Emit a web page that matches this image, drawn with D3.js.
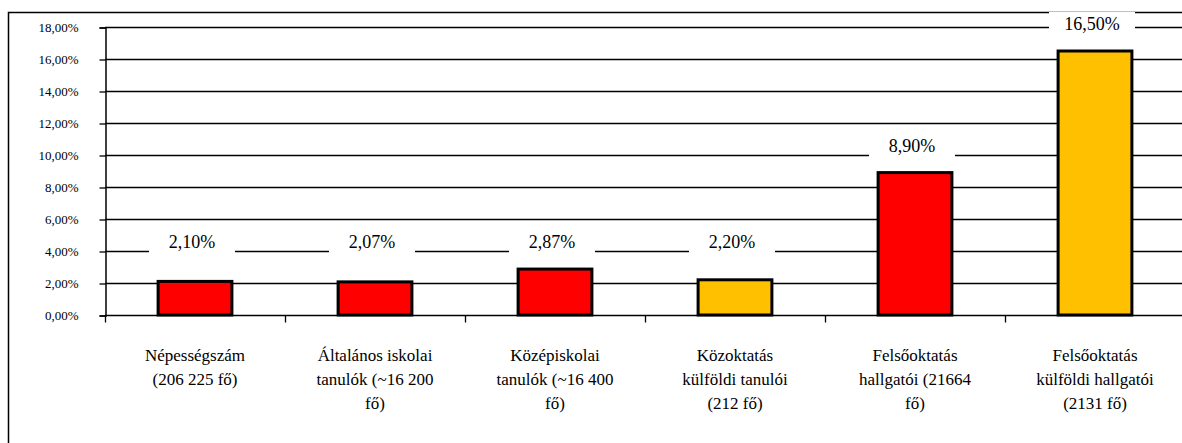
<!DOCTYPE html>
<html>
<head>
<meta charset="utf-8">
<script src="https://cdn.jsdelivr.net/npm/d3@7"></script>
<style>
body { margin: 0; background: #fff; }
#chart { display: block; font-family: 'Liberation Serif', 'Times New Roman', Tinos, serif; }
#chart text { font-family: 'Liberation Serif', 'Times New Roman', Tinos, serif !important; }
</style>
</head>
<body>
<svg id="chart" width="1182" height="443" style="font-family:'Liberation Serif'"></svg>
<script>
const categories = [
    ["Népességszám", "(206 225 fő)"],
    ["Általános iskolai", "tanulók (~16 200", "fő)"],
    ["Középiskolai", "tanulók (~16 400", "fő)"],
    ["Közoktatás", "külföldi tanulói", "(212 fő)"],
    ["Felsőoktatás", "hallgatói (21664", "fő)"],
    ["Felsőoktatás", "külföldi hallgatói", "(2131 fő)"]
];
const values = [2.10, 2.07, 2.87, 2.20, 8.90, 16.50];
const barColors = ["#ff0000", "#ff0000", "#ff0000", "#ffc000", "#ff0000", "#ffc000"];
const yTicks = [0, 2, 4, 6, 8, 10, 12, 14, 16, 18];

const W = 1182, H = 443;
const X0 = 105, X1 = 1185, Y0 = 315, Y1 = 27;

var fmt = function(v){ return v.toFixed(2).replace(".", ",") + "%"; };

var svg = d3.select("#chart");

// outer frame
svg.append("rect")
    .attr("x", 8.5).attr("y", 12.5)
    .attr("width", W + 10).attr("height", H + 10)
    .attr("fill", "none").attr("stroke", "#000").attr("stroke-width", 1.5);

var x = d3.scaleBand().domain(d3.range(values.length)).range([X0, X1]).paddingInner(0.59).paddingOuter(0.295);
var xCat = d3.scaleBand().domain(d3.range(values.length)).range([X0, X1]);
var y = d3.scaleLinear().domain([0, 18]).range([Y0, Y1]);

// gridlines
svg.append("g").selectAll("line").data(yTicks.slice(1)).join("line")
    .attr("x1", X0).attr("x2", W)
    .attr("y1", d => y(d) + 0.5).attr("y2", d => y(d) + 0.5)
    .attr("stroke", "#000").attr("stroke-width", 1.3);

// y axis
var yAxis = svg.append("g").attr("transform", "translate(" + (X0 + 0.5) + ",0.5)")
    .call(d3.axisLeft(y).tickValues(yTicks).tickFormat(fmt).tickSize(6).tickPadding(21));
yAxis.attr("font-family", null).attr("font-size", 13);
yAxis.select(".domain").attr("stroke-width", 1.5);
yAxis.selectAll("line").attr("stroke-width", 1.3);
yAxis.selectAll("text").attr("fill", "#000");

// x axis
var xAxis = svg.append("g").attr("transform", "translate(0," + (Y0 + 0.5) + ")");
xAxis.append("line").attr("x1", X0).attr("x2", W).attr("stroke", "#000").attr("stroke-width", 1.5);
xAxis.selectAll(".tk").data(d3.range(values.length + 1)).join("line")
    .attr("class", "tk")
    .attr("x1", d => Math.round(X0 + d * xCat.bandwidth()) + 0.5)
    .attr("x2", d => Math.round(X0 + d * xCat.bandwidth()) + 0.5)
    .attr("y1", 0).attr("y2", 7).attr("stroke", "#000").attr("stroke-width", 1.3);

// bars
svg.append("g").selectAll("rect").data(values).join("rect")
    .attr("x", (d, i) => x(i))
    .attr("y", d => y(d))
    .attr("width", x.bandwidth())
    .attr("height", d => Y0 - y(d))
    .attr("fill", (d, i) => barColors[i])
    .attr("stroke", "#000").attr("stroke-width", 3);

// data labels, white box hides the gridline behind
var lab = svg.append("g").selectAll("g").data(values).join("g")
    .attr("transform", (d, i) => "translate(" + (x(i) + x.bandwidth() / 2 - 3) + "," + (y(Math.max(d, 2.87)) - 27) + ")");
lab.append("rect").attr("x", -43).attr("y", -12).attr("width", 86).attr("height", 24).attr("fill", "#fff");
lab.append("text").text(d => fmt(d))
    .attr("text-anchor", "middle").attr("dy", "0.35em")
    .attr("font-size", 18).attr("fill", "#000");

// category labels
var cat = svg.append("g").selectAll("text").data(categories).join("text")
    .attr("text-anchor", "middle").attr("fill", "#000")
    .attr("font-size", 17)
    .attr("x", (d, i) => xCat(i) + xCat.bandwidth() / 2)
    .attr("y", 361);
cat.selectAll("tspan").data(d => d).join("tspan")
    .attr("x", function(){ return this.parentNode.getAttribute("x"); })
    .attr("dy", (d, j) => j === 0 ? 0 : 24)
    .text(d => d);
</script>
</body>
</html>
